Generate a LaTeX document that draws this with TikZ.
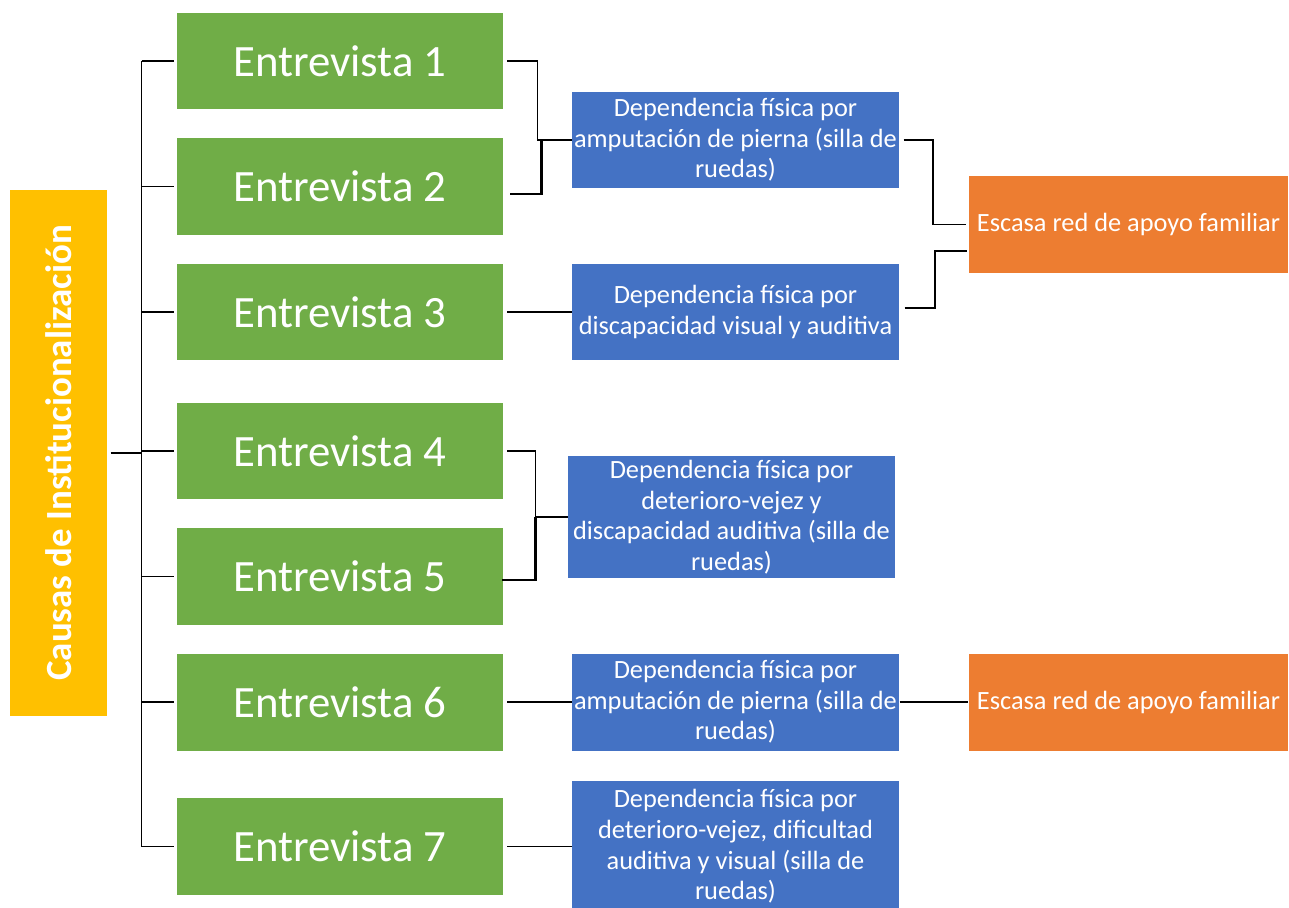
\documentclass[tikz,border=0pt]{standalone}
\usepackage{fontspec}
\setmainfont{Carlito}
\usepackage{tikz}
\usetikzlibrary{positioning,calc}
\definecolor{verde}{HTML}{70AD47}
\definecolor{azul}{HTML}{4472C4}
\definecolor{naranja}{HTML}{ED7D31}
\definecolor{amarillo}{HTML}{FFC000}
\tikzset{
    every picture/.style={line width=0.6pt},
    caja/.style={rectangle,inner sep=0pt,text=white,align=center},
    raiz/.style={caja,fill=amarillo,minimum width=10.52cm,minimum height=1.94cm,font=\fontsize{21}{25}\selectfont\bfseries},
    entrevista/.style={caja,fill=verde,minimum width=6.52cm,minimum height=1.94cm,font=\fontsize{25.5}{30}\selectfont},
    causa/.style={caja,fill=azul,minimum width=6.54cm,minimum height=1.94cm,font=\fontsize{15}{17.4}\selectfont},
    apoyo/.style={caja,fill=naranja,minimum width=6.4cm,minimum height=1.94cm,font=\fontsize{15}{17.4}\selectfont},
    grueso/.style={line width=1.2pt}
}
\begin{document}
\begin{tikzpicture}[x=0.02cm,y=-0.02cm]
    \useasboundingbox (0,0) rectangle (1289,907);

    % raiz y entrevistas
    \node[raiz,rotate=90] (causas) at (58.5,453) {Causas de Institucionalización};
    \node[entrevista] (e1) at (340,61) {Entrevista 1};
    \node[entrevista] (e2) at (340,186.5) {Entrevista 2};
    \node[entrevista] (e3) at (340,312) {Entrevista 3};
    \node[entrevista] (e4) at (340,451) {Entrevista 4};
    \node[entrevista] (e5) at (340,576.5) {Entrevista 5};
    \node[entrevista] (e6) at (340,702) {Entrevista 6};
    \node[entrevista] (e7) at (340,846.5) {Entrevista 7};

    % causas
    \node[causa] (c1) at (735.5,140) {Dependencia física por\\amputación de pierna (silla de\\ruedas)};
    \node[causa] (c2) at (735.5,312) {Dependencia física por\\discapacidad visual y auditiva};
    \node[causa,minimum height=2.46cm] (c3) at (731.5,517) {Dependencia física por\\deterioro-vejez y\\discapacidad auditiva (silla de\\ruedas)};
    \node[causa] (c4) at (735.5,702) {Dependencia física por\\amputación de pierna (silla de\\ruedas)};
    \node[causa,minimum height=2.64cm] (c5) at (735.5,846.5) {Dependencia física por\\deterioro-vejez, dificultad\\auditiva y visual (silla de\\ruedas)};

    % red de apoyo
    \node[apoyo] (r1) at (1128.5,224.5) {Escasa red de apoyo familiar};
    \node[apoyo] (r2) at (1128.5,702) {Escasa red de apoyo familiar};

    % arbol
    \coordinate (tronco) at ($(causas.south)+(34,0)$);
    \draw[grueso] ($(causas.south)+(3,0)$) -- (tronco);
    \draw (tronco |- e1.west) -- (tronco |- e7.west);
    \foreach \i in {1,...,7}
        \draw (tronco |- e\i.west) -- ($(e\i.west)+(-3,0)$);

    % entrevistas a causas
    \draw ($(e1.east)+(4,0)$) -| ($(c1.west)+(-34,0)$) -- (c1.west);
    \draw[grueso] ($(e2.east)+(7,7.5)$) -| ($(c1.west)+(-30,0)$) -- (c1.west);
    \draw ($(e3.east)+(4,0)$) -- (c2.west);
    \draw ($(e4.east)+(4,0)$) -| ($(c3.west)+(-32,0)$) -- (c3.west);
    \draw[grueso] ($(e5.east)+(-1,3.5)$) -| ($(c3.west)+(-32,0)$);
    \draw ($(e6.east)+(4,0)$) -- (c4.west);
    \draw ($(e7.east)+(4,0)$) -- (c5.west);

    % causas a red de apoyo
    \draw ($(c1.east)+(4,0)$) -| ($(r1.west)+(-35,0)$) -- ($(r1.west)+(-2,0)$);
    \draw[grueso] ($(c2.east)+(5,-4)$) -| ($(r1.west)+(-33,26.5)$) -- ($(r1.west)+(-1,26.5)$);
    \draw (c4.east) -- (r2.west);
\end{tikzpicture}
\end{document}
